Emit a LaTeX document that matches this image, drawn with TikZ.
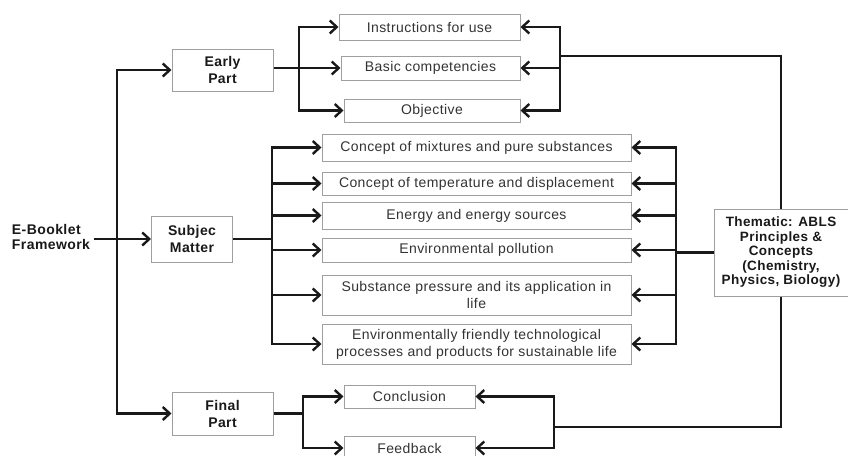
\documentclass[tikz,border=0pt]{standalone}
\usepackage{fontspec}
\setmainfont{Liberation Sans}[LetterSpace=3]
\usetikzlibrary{arrows.meta}

\begin{document}
\begin{tikzpicture}[x=1pt,y=-1pt,
  every node/.style={font=\fontsize{14}{17}\selectfont},
  box/.style={draw=gray!75,line width=1pt,inner sep=0pt,align=center,text=black!80},
  hbox/.style={box,font=\fontsize{14}{17}\selectfont\bfseries,text=black!90},
  link/.style={line width=2.4pt,draw=black!90},
  arr/.style={link,-{Straight Barb[length=7pt,width=13pt]}},
  biarr/.style={link,{Straight Barb[length=7pt,width=13pt]}-{Straight Barb[length=7pt,width=13pt]}}]
  \useasboundingbox[fill=white] (0,0) rectangle (848,455);

  \node[align=left,font=\fontsize{14}{15.5}\selectfont\bfseries,text=black!90] (frame) at (51,237) {E-Booklet\\Framework};
  \node[hbox,minimum width=101,minimum height=42] (early) at (222.5,70) {Early\\Part};
  \node[hbox,minimum width=81,minimum height=46] (subj) at (192,239) {Subjec\\Matter};
  \node[hbox,minimum width=101,minimum height=43] (final) at (222.5,413.5) {Final\\Part};

  \node[box,minimum width=181,minimum height=26] (instr) at (429.5,27) {Instructions for use};
  \node[box,minimum width=179,minimum height=24] (basic) at (430.5,68) {Basic competencies};
  \node[box,minimum width=176,minimum height=23] (obj) at (432,110.5) {Objective};

  \node[box,minimum width=309,minimum height=27] (mix) at (476.5,147.5) {Concept of mixtures and pure substances};
  \node[box,minimum width=309,minimum height=23] (temp) at (476.5,183.5) {Concept of temperature and displacement};
  \node[box,minimum width=309,minimum height=27] (energy) at (476.5,215.5) {Energy and energy sources};
  \node[box,minimum width=309,minimum height=24] (poll) at (476.5,250) {Environmental pollution};
  \node[box,minimum width=309,minimum height=40] (press) at (476.5,295) {Substance pressure and its application in\\life};
  \node[box,minimum width=309,minimum height=40] (green) at (476.5,344) {Environmentally friendly technological\\processes and products for sustainable life};

  \node[box,minimum width=131,minimum height=23] (concl) at (409.5,396.5) {Conclusion};
  \node[box,minimum width=131,minimum height=24] (feed) at (409.5,448) {Feedback};

  \node[hbox,minimum width=134,minimum height=87,font=\fontsize{13.5}{14.5}\selectfont\bfseries] (them) at (781,252.5)
    {Thematic: ABLS\\Principles \&\\Concepts\\(Chemistry,\\Physics, Biology)};

  % branch points
  \coordinate (t1) at (117,0);
  \coordinate (t2) at (299,0);
  \coordinate (t3) at (272,0);
  \coordinate (t4) at (676,0);
  \coordinate (t6) at (303,0);
  \coordinate (j1) at (560,56);
  \coordinate (j2) at (554,427);

  % left side
  \draw[arr] (subj.west -| frame.east) -- (subj.west);
  \draw[biarr] (early.west) -- (early.west -| t1) -- (final.west -| t1) -- (final.west);

  \draw[arr] (basic.west -| early.east) -- (basic.west);
  \draw[biarr] (instr.west) -- (instr.west -| t2) -- (obj.west -| t2) -- (obj.west);

  \draw[link] (subj.east) -- (subj.east -| t3);
  \draw[biarr] (mix.west) -- (mix.west -| t3) -- (green.west -| t3) -- (green.west);
  \foreach \n in {temp,energy,poll,press}
    \draw[arr] (\n.west -| t3) -- (\n.west);

  \draw[link] (final.east) -- (final.east -| t6);
  \draw[biarr] (concl.west) -- (concl.west -| t6) -- (feed.west -| t6) -- (feed.west);

  % right side
  \draw[link] (them.west) -- (them.west -| t4);
  \draw[biarr] (mix.east) -- (mix.east -| t4) -- (green.east -| t4) -- (green.east);
  \foreach \n in {temp,energy,poll,press}
    \draw[arr] (\n.east -| t4) -- (\n.east);

  \draw[link] (them.north) |- (j1);
  \draw[biarr] (instr.east) -- (instr.east -| j1) -- (obj.east -| j1) -- (obj.east);
  \draw[arr] (basic.east -| j1) -- (basic.east);

  \draw[link] (them.south) |- (j2);
  \draw[biarr] (concl.east) -- (concl.east -| j2) -- (feed.east -| j2) -- (feed.east);
\end{tikzpicture}
\end{document}
